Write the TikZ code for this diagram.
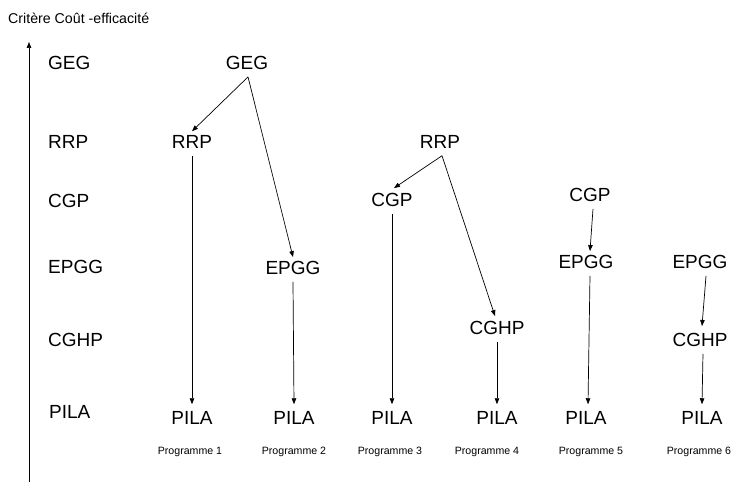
\documentclass[tikz,border=0pt]{standalone}
\usepackage{fontspec}
\setmainfont{Liberation Sans}
\usetikzlibrary{arrows.meta}
\begin{document}
\begin{tikzpicture}[x=1pt,y=-1pt,
  lbl/.style={font=\fontsize{19}{21}\selectfont, inner xsep=0pt, inner ysep=7pt},
  side/.style={lbl, anchor=west},
  prog/.style={font=\fontsize{10.6}{12}\selectfont, inner sep=0pt},
  title/.style={font=\fontsize{14.2}{16}\selectfont, inner sep=0pt, anchor=west},
  arr/.style={-{Triangle[length=6pt,width=4.5pt]}, line width=0.7pt}]
\useasboundingbox (0,0) rectangle (732,487);
% title and axis
\node[title] (ttl) at (8,18) {Critère Coût -efficacité};
\coordinate (axb) at (29,482);
\coordinate (axt) at (29,42);
\draw[arr] (axb) -- (axt);
% level labels
\node[side] (lGEG) at (48,63) {GEG};
\node[side] (lRRP) at (48,142) {RRP};
\node[side] (lCGP) at (48,201) {CGP};
\node[side] (lEPGG) at (48,267) {EPGG};
\node[side] (lCGHP) at (48,340) {CGHP};
\node[side] (lPILA) at (49,412) {PILA};
% column 1 & 2
\node[lbl] (geg) at (247,63) {GEG};
\node[lbl] (rrp1) at (192,142) {RRP};
\node[lbl] (epgg2) at (293,268) {EPGG};
\node[lbl] (pila1) at (192,418) {PILA};
\node[lbl] (pila2) at (294,418) {PILA};
% column 3 & 4
\node[lbl] (rrp3) at (440,142) {RRP};
\node[lbl] (cgp3) at (392,200) {CGP};
\node[lbl] (cghp4) at (497,328) {CGHP};
\node[lbl] (pila3) at (392,418) {PILA};
\node[lbl] (pila4) at (497,418) {PILA};
% column 5
\node[lbl] (cgp5) at (590,195) {CGP};
\node[lbl] (epgg5) at (586,262) {EPGG};
\node[lbl] (pila5) at (586,418) {PILA};
% column 6
\node[lbl] (epgg6) at (700,262) {EPGG};
\node[lbl] (cghp6) at (700,340) {CGHP};
\node[lbl] (pila6) at (702,418) {PILA};
% programme labels
\node[prog] (p1) at (190,452) {Programme 1};
\node[prog] (p2) at (294,452) {Programme 2};
\node[prog] (p3) at (390,452) {Programme 3};
\node[prog] (p4) at (487,452) {Programme 4};
\node[prog] (p5) at (591,452) {Programme 5};
\node[prog] (p6) at (699,452) {Programme 6};
% connectors
\draw[arr] ([xshift=1pt]geg.south) -- ([yshift=-3pt]rrp1.north);
\draw[arr] ([xshift=1pt]geg.south) -- ([yshift=-3pt]epgg2.north);
\draw[arr] (rrp1.south) -- (pila1.north);
\draw[arr] (epgg2.south) -- (pila2.north);
\draw[arr] ([xshift=2pt]rrp3.south) -- ([xshift=2pt,yshift=-2pt]cgp3.north);
\draw[arr] ([xshift=2pt]rrp3.south) -- ([xshift=-2pt,yshift=-2pt]cghp4.north);
\draw[arr] (cgp3.south) -- (pila3.north);
\draw[arr] (cghp4.south) -- (pila4.north);
\draw[arr] ([xshift=3pt]cgp5.south) -- ([xshift=4pt,yshift=-3pt]epgg5.north);
\draw[arr] ([xshift=4pt]epgg5.south) -- ([xshift=2pt]pila5.north);
\draw[arr] ([xshift=6pt]epgg6.south) -- ([xshift=2pt]cghp6.north);
\draw[arr] ([xshift=3pt]cghp6.south) -- (pila6.north);
\end{tikzpicture}
\end{document}
